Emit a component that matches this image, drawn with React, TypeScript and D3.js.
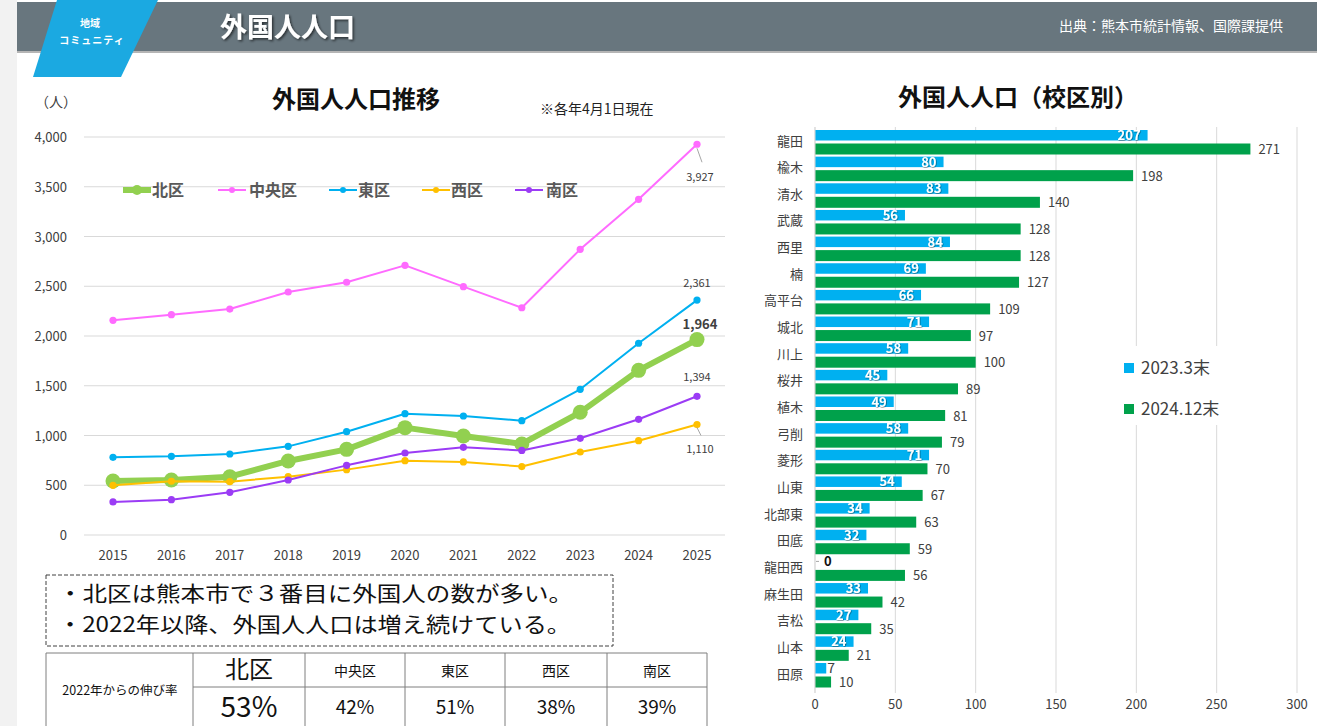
import React from "react";
import * as d3 from "d3";

const years = [2015, 2016, 2017, 2018, 2019, 2020, 2021, 2022, 2023, 2024, 2025];
const wardNames = ["北区", "中央区", "東区", "西区", "南区"];
const kitaValues = [543, 553, 586, 744, 861, 1079, 995, 915, 1233, 1655, 1964];
const chuoValues = [2158, 2214, 2271, 2442, 2540, 2710, 2496, 2284, 2871, 3374, 3927];
const higashiValues = [781, 791, 814, 891, 1038, 1219, 1196, 1149, 1464, 1927, 2361];
const nishiValues = [499, 540, 536, 586, 657, 747, 734, 688, 834, 948, 1110];
const minamiValues = [332, 355, 429, 553, 700, 824, 881, 850, 972, 1163, 1394];
const wardColors = ["#92d050", "#ff6bff", "#00b0f0", "#ffc000", "#9b3cf5"];
const yTicks = [0, 500, 1000, 1500, 2000, 2500, 3000, 3500, 4000];

const growthRates = [53, 42, 51, 38, 39];

const schools = ["龍田", "楡木", "清水", "武蔵", "西里", "楠", "高平台", "城北", "川上", "桜井", "植木", "弓削", "菱形", "山東", "北部東", "田底", "龍田西", "麻生田", "吉松", "山本", "田原"];
const values2023 = [207, 80, 83, 56, 84, 69, 66, 71, 58, 45, 49, 58, 71, 54, 34, 32, 0, 33, 27, 24, 7];
const values2024 = [271, 198, 140, 128, 128, 127, 109, 97, 100, 89, 81, 79, 70, 67, 63, 59, 56, 42, 35, 21, 10];
const barSeriesNames = ["2023.3末", "2024.12末"];
const barTicks = [0, 50, 100, 150, 200, 250, 300];

const FONT = '"Noto Sans CJK JP", "Noto Sans", sans-serif';

export default function App() {
  const W = 1317, H = 726;
  const series = [kitaValues, chuoValues, higashiValues, nishiValues, minamiValues];

  const x = d3.scalePoint<number>().domain(years).range([113, 697]);
  const y = d3.scaleLinear().domain([0, 4000]).range([535, 137]);
  const line = d3.line<number>().x((_, i) => x(years[i])!).y((v) => y(v));
  const fmt = d3.format(",");

  const bx = d3.scaleLinear().domain([0, 300]).range([815, 1297]);
  const by = d3.scaleBand<string>().domain(schools).range([128.5, 128.5 + 21 * 26.65]).padding(0);

  const legendPos = [
    { lx: 123, tx: 152 },
    { lx: 218, tx: 249 },
    { lx: 329, tx: 358 },
    { lx: 422, tx: 451 },
    { lx: 515, tx: 546 },
  ];

  const tableCols = [46, 193, 305, 405, 505, 607, 707];

  return (
    <svg width={W} height={H} style={{ position: "absolute", left: 0, top: 0, fontFamily: FONT }}>
      <defs>
        <filter id="tshadow" x="-10%" y="-20%" width="130%" height="150%">
          <feDropShadow dx="1.5" dy="1.5" stdDeviation="1" floodColor="#000" floodOpacity="0.6" />
        </filter>
        <filter id="lshadow" x="-20%" y="-30%" width="140%" height="160%">
          <feDropShadow dx="0.6" dy="0.6" stdDeviation="0.6" floodColor="#000" floodOpacity="0.55" />
        </filter>
      </defs>
      <rect x={0} y={0} width={W} height={H} fill="#ffffff" />
      <rect x={0} y={0} width={17} height={H} fill="#f2f2f2" />

      {/* header */}
      <rect x={17} y={2} width={W - 17} height={49} fill="#68767e" />
      <rect x={17} y={51} width={W - 17} height={2} fill="#b5b5b5" />
      <polygon points="57,0 158,0 121,77 33,77" fill="#1ba9e1" />
      <text x={90} y={27} textAnchor="middle" fill="#fff" fontSize={10} fontWeight="bold">地域</text>
      <text x={92} y={44} textAnchor="middle" fill="#fff" fontSize={10} fontWeight="bold" letterSpacing={1}>コミュニティ</text>
      <text x={220} y={37} fill="#fff" fontSize={27} fontWeight="bold" filter="url(#tshadow)">外国人人口</text>
      <text x={1283} y={31} textAnchor="end" fill="#fff" fontSize={14}>出典：熊本市統計情報、国際課提供</text>

      {/* line chart titles */}
      <text x={356} y={108} textAnchor="middle" fontSize={24} fontWeight="bold" fill="#111">外国人人口推移</text>
      <text x={35} y={107} fontSize={14} fill="#404040">（人）</text>
      <text x={540} y={114} fontSize={14} fill="#222">※各年4月1日現在</text>

      {yTicks.map((t) => (
        <g key={t}>
          <line x1={84} x2={725} y1={y(t)} y2={y(t)} stroke="#d9d9d9" strokeWidth={1} />
          <text x={67} y={y(t) + 5} textAnchor="end" fontSize={13} fill="#404040">{fmt(t)}</text>
        </g>
      ))}
      {years.map((yr) => (
        <text key={yr} x={x(yr)} y={560} textAnchor="middle" fontSize={13} fill="#404040">{yr}</text>
      ))}

      {series.map((vals, si) => {
        const thick = si === 0;
        return (
          <g key={si}>
            <path d={line(vals) || ""} fill="none" stroke={wardColors[si]} strokeWidth={thick ? 6 : 2} strokeLinejoin="round" />
            {vals.map((v, i) => (
              <circle key={i} cx={x(years[i])} cy={y(v)} r={thick ? 7.5 : 3.6} fill={wardColors[si]} />
            ))}
          </g>
        );
      })}

      <line x1={x(2025)!} y1={y(3927) + 4} x2={x(2025)! + 5} y2={y(3927) + 18} stroke="#a6a6a6" strokeWidth={1} />
      <text x={x(2025)! + 3} y={y(3927) + 37} textAnchor="middle" fontSize={11} fill="#404040">{fmt(3927)}</text>
      <text x={x(2025)} y={y(2361) - 13} textAnchor="middle" fontSize={11} fill="#404040">{fmt(2361)}</text>
      <text x={x(2025)! + 3} y={y(1964) - 11} textAnchor="middle" fontSize={13} fontWeight="bold" fill="#404040">{fmt(1964)}</text>
      <text x={x(2025)} y={y(1394) - 15} textAnchor="middle" fontSize={11} fill="#404040">{fmt(1394)}</text>
      <line x1={x(2025)!} y1={y(1110) + 3} x2={x(2025)! + 4} y2={y(1110) + 11} stroke="#a6a6a6" strokeWidth={1} />
      <text x={x(2025)! + 3} y={y(1110) + 28} textAnchor="middle" fontSize={11} fill="#404040">{fmt(1110)}</text>

      {wardNames.map((n, i) => {
        const p = legendPos[i];
        const thick = i === 0;
        return (
          <g key={n}>
            <line x1={p.lx} x2={p.lx + 28} y1={190} y2={190} stroke={wardColors[i]} strokeWidth={thick ? 6 : 2} />
            <circle cx={p.lx + 14} cy={190} r={thick ? 5 : 3} fill={wardColors[i]} />
            <text x={p.tx} y={196} fontSize={16} fontWeight="bold" fill="#595959">{n}</text>
          </g>
        );
      })}

      <rect x={46} y={575} width={567} height={71} fill="none" stroke="#404040" strokeWidth={1} strokeDasharray="4,2" />
      <text x={58} y={601} fontSize={21} fill="#111" textLength={515} lengthAdjust="spacingAndGlyphs">・北区は熊本市で３番目に外国人の数が多い。</text>
      <text x={58} y={632} fontSize={21} fill="#111" textLength={513} lengthAdjust="spacingAndGlyphs">・2022年以降、外国人人口は増え続けている。</text>

      <g stroke="#7f7f7f" strokeWidth={1} fill="none">
        <line x1={46} x2={707} y1={653} y2={653} />
        <line x1={193} x2={707} y1={687} y2={687} />
        {tableCols.map((c) => (
          <line key={c} x1={c} x2={c} y1={653} y2={726} />
        ))}
      </g>
      <text x={120} y={695} textAnchor="middle" fontSize={12.5} fill="#111">2022年からの伸び率</text>
      {wardNames.map((n, i) => {
        const cx = (tableCols[i + 1] + tableCols[i + 2]) / 2;
        const big = i === 0;
        return (
          <g key={n}>
            <text x={cx} y={big ? 678 : 676} textAnchor="middle" fontSize={big ? 24 : 14} fill="#111">{n}</text>
            <text x={cx} y={big ? 717 : 714} textAnchor="middle" fontSize={big ? 28 : 19} fill="#111">{growthRates[i]}%</text>
          </g>
        );
      })}

      <text x={1018} y={106} textAnchor="middle" fontSize={24} fontWeight="bold" fill="#111">外国人人口（校区別）</text>
      {barTicks.map((t) => (
        <g key={t}>
          <line x1={bx(t)} x2={bx(t)} y1={127} y2={693} stroke="#d9d9d9" strokeWidth={1} />
          <text x={bx(t)} y={709} textAnchor="middle" fontSize={13} fill="#404040">{t}</text>
        </g>
      ))}
      {schools.map((s, i) => {
        const y0 = by(s)!;
        const v1 = values2023[i];
        const v2 = values2024[i];
        const e1 = bx(v1);
        const e2 = bx(v2);
        return (
          <g key={s}>
            <text x={803} y={y0 + 17} textAnchor="end" fontSize={13} fill="#404040">{s}</text>
            <rect x={bx(0)} y={y0 + 1.5} width={e1 - bx(0)} height={10.5} fill="#00b0f0" />
            <rect x={bx(0)} y={y0 + 15} width={e2 - bx(0)} height={11} fill="#00a14b" />
            {v1 === 0 ? (
              <g>
                <line x1={bx(0) + 1} x2={bx(0) + 4} y1={y0 + 6.5} y2={y0 + 6.5} stroke="#a6a6a6" />
                <text x={bx(0) + 9} y={y0 + 11.5} fontSize={13} fontWeight="bold" fill="#111">{v1}</text>
              </g>
            ) : v1 < 10 ? (
              <text x={e1 + 1} y={y0 + 11.5} fontSize={14} fill="#404040">{v1}</text>
            ) : (
              <text x={e1 - 7} y={y0 + 11.5} textAnchor="end" fontSize={13} fontWeight="bold" fill="#fff" filter="url(#lshadow)">{v1}</text>
            )}
            <text x={e2 + 8} y={y0 + 25.5} fontSize={13} fill="#404040">{v2}</text>
          </g>
        );
      })}
      <line x1={bx(0)} x2={bx(0)} y1={127} y2={693} stroke="#d9d9d9" strokeWidth={1} />

      <rect x={1108} y={346} width={182} height={79} fill="#fff" />
      <rect x={1124} y={363} width={10} height={10} fill="#00b0f0" />
      <text x={1141} y={374} fontSize={17} fill="#404040">{barSeriesNames[0]}</text>
      <rect x={1124} y={404} width={10} height={10} fill="#00a14b" />
      <text x={1141} y={415} fontSize={17} fill="#404040">{barSeriesNames[1]}</text>
    </svg>
  );
}
